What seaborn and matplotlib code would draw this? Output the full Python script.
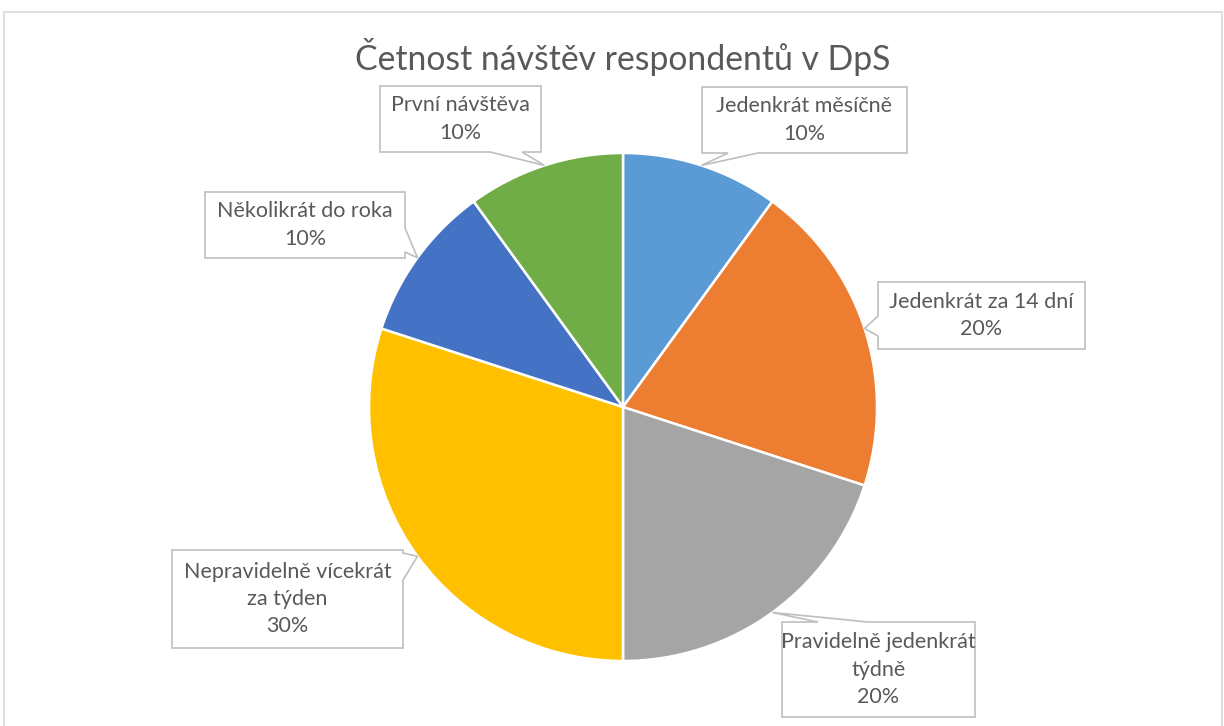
import numpy as np
import seaborn as sns
import matplotlib.pyplot as plt
from matplotlib.patches import Polygon, Rectangle

sns.set_theme(style="white")
plt.rcParams['font.family'] = ['Lato', 'DejaVu Sans']

# data
categories = ["Jedenkrát měsíčně", "Jedenkrát za 14 dní", "Pravidelně jedenkrát\ntýdně",
              "Nepravidelně vícekrát\nza týden", "Několikrát do roka", "První návštěva"]
shares = [10, 20, 20, 30, 10, 10]
colors = ["#5B9BD5", "#ED7D31", "#A5A5A5", "#FFC000", "#4472C4", "#70AD47"]
title = "Četnost návštěv respondentů v DpS"

# layout in image pixels (y down): box x0, y0, x1, y1, wedge side, wedge base
boxes = [(702, 87, 907, 153, "bottom", (728, 758)),
         (878, 282, 1085, 349, "left", (316, 336)),
         (782, 622, 975, 717, "top", (818, 868)),
         (172, 550, 403, 648, "right", (553, 580)),
         (205, 192, 405, 258, "right", (228, 252)),
         (380, 86, 541, 152, "bottom", (490, 522))]

W, H = 1224, 726
cx, cy, R = 623, 407, 254
txt_col = "#595959"
edge_col = "#BFBFBF"

fig = plt.figure(figsize=(W / 100, H / 100), dpi=100)
ax = fig.add_axes([0, 0, 1, 1])

# chart area border
ax.add_patch(Rectangle((4, -10), W - 6, H - 12 + 10, fill=False, ec="#D9D9D9", lw=1.2))

ax.pie(shares, colors=colors, startangle=90, counterclock=False,
       center=(cx, H - cy), radius=R, frame=True,
       wedgeprops=dict(edgecolor="white", linewidth=1.8))
ax.set_xlim(0, W)
ax.set_ylim(0, H)
ax.axis("off")

ax.text(cx, H - 57, title, ha="center", va="center", fontsize=24.3,
        color=txt_col)


def callout(x0, y0, x1, y1, side, base, tip):
    # polygon for box with a pointer, in image coords
    a, b = base
    if side == "bottom":
        pts = [(x0, y0), (x1, y0), (x1, y1), (b, y1), tip, (a, y1), (x0, y1)]
    elif side == "top":
        pts = [(x0, y0), (a, y0), tip, (b, y0), (x1, y0), (x1, y1), (x0, y1)]
    elif side == "left":
        pts = [(x0, y0), (x1, y0), (x1, y1), (x0, y1), (x0, b), tip, (x0, a)]
    else:
        pts = [(x0, y0), (x1, y0), (x1, a), tip, (x1, b), (x1, y1), (x0, y1)]
    return [(px, H - py) for px, py in pts]


total = sum(shares)
start = 0.0
for cat, val, box in zip(categories, shares, boxes):
    mid = np.deg2rad((start + val / 2) / total * 360)
    start += val
    tip = (cx + R * np.sin(mid), cy - R * np.cos(mid))
    x0, y0, x1, y1, side, base = box
    ax.add_patch(Polygon(callout(x0, y0, x1, y1, side, base, tip), closed=True,
                         fc="white", ec=edge_col, lw=1.2, zorder=5))
    ax.text((x0 + x1) / 2, H - (y0 + y1) / 2, f"{cat}\n{val}%", ha="center",
            va="center", fontsize=15.5, color=txt_col, linespacing=1.45, zorder=6)

plt.savefig("out.png", dpi=100, facecolor="white")
